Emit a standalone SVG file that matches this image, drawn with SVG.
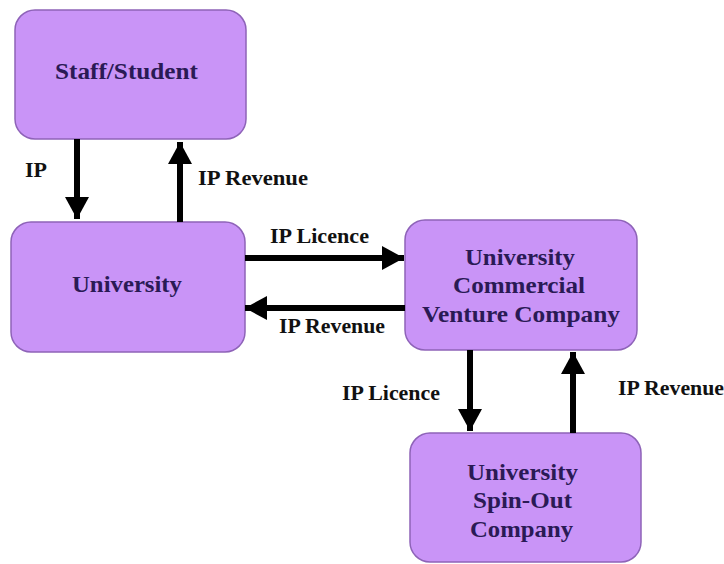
<svg xmlns="http://www.w3.org/2000/svg" width="724" height="564" viewBox="0 0 724 564">
<style>
.box{fill:#C994F7;stroke:#8E63B8;stroke-width:1.5}
.nt{font-family:"Liberation Serif",serif;font-weight:bold;font-size:23px;fill:#2A1A55}
.lb{font-family:"Liberation Serif",serif;font-weight:bold;font-size:20px;fill:#111}
.ar{stroke:#000;stroke-width:6;fill:none;marker-end:url(#ah)}
</style>
<defs>
<marker id="ah" markerUnits="userSpaceOnUse" markerWidth="24" markerHeight="24" refX="22" refY="12" orient="auto">
<path d="M0,0 L22,12 L0,24 Z" fill="#000"/>
</marker>
</defs>
<rect width="724" height="564" fill="#fff"/>
<g id="staff">
<rect class="box" x="15" y="10" width="231" height="129" rx="20"/>
<text class="nt" x="55" y="79" textLength="143" lengthAdjust="spacingAndGlyphs">Staff/Student</text>
</g>
<g id="university">
<rect class="box" x="11" y="222" width="234" height="130" rx="20"/>
<text class="nt" x="72" y="292" textLength="110" lengthAdjust="spacingAndGlyphs">University</text>
</g>
<g id="ucvc">
<rect class="box" x="405" y="220" width="232" height="130" rx="20"/>
<text class="nt" x="465" y="265" textLength="110" lengthAdjust="spacingAndGlyphs">University</text>
<text class="nt" x="453" y="293" textLength="132" lengthAdjust="spacingAndGlyphs">Commercial</text>
<text class="nt" x="422" y="322" textLength="198" lengthAdjust="spacingAndGlyphs">Venture Company</text>
</g>
<g id="spinout">
<rect class="box" x="410" y="433" width="231" height="129" rx="20"/>
<text class="nt" x="467" y="480" textLength="111" lengthAdjust="spacingAndGlyphs">University</text>
<text class="nt" x="473" y="508" textLength="99" lengthAdjust="spacingAndGlyphs">Spin-Out</text>
<text class="nt" x="470" y="537" textLength="103" lengthAdjust="spacingAndGlyphs">Company</text>
</g>
<g id="connectors">
<line class="ar" x1="77" y1="139" x2="77" y2="219"/>
<line class="ar" x1="180" y1="222" x2="180" y2="142"/>
<line class="ar" x1="245" y1="258" x2="404" y2="258"/>
<line class="ar" x1="405" y1="308" x2="245" y2="308"/>
<line class="ar" x1="470" y1="350" x2="470" y2="431"/>
<line class="ar" x1="573" y1="433" x2="573" y2="352"/>
</g>
<g id="labels">
<text class="lb" x="25" y="177" textLength="22" lengthAdjust="spacingAndGlyphs">IP</text>
<text class="lb" x="198" y="185" textLength="110" lengthAdjust="spacingAndGlyphs">IP Revenue</text>
<text class="lb" x="270" y="243" textLength="99" lengthAdjust="spacingAndGlyphs">IP Licence</text>
<text class="lb" x="279" y="333" textLength="106" lengthAdjust="spacingAndGlyphs">IP Revenue</text>
<text class="lb" x="342" y="400" textLength="98" lengthAdjust="spacingAndGlyphs">IP Licence</text>
<text class="lb" x="618" y="395" textLength="106" lengthAdjust="spacingAndGlyphs">IP Revenue</text>
</g>
</svg>
